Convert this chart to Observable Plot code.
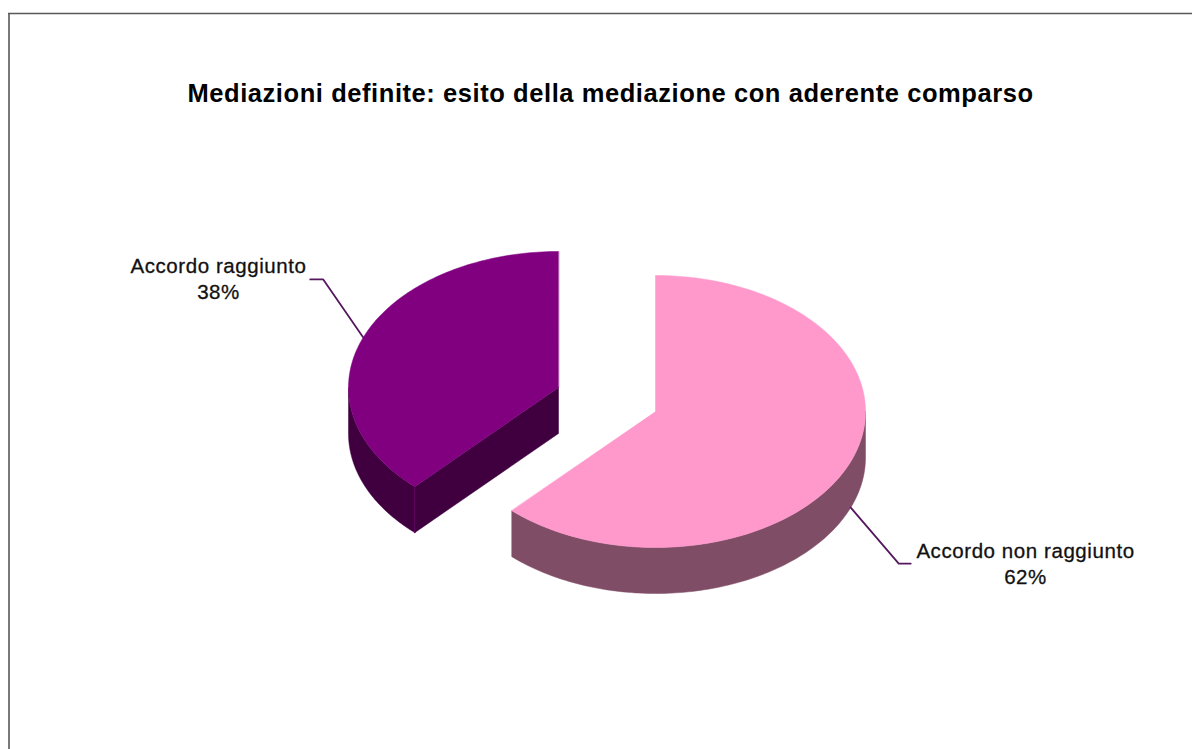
<!DOCTYPE html>
<html>
<head>
<meta charset="utf-8">
<title>Mediazioni definite</title>
<script src="https://cdn.jsdelivr.net/npm/d3@7"></script>
<script src="https://cdn.jsdelivr.net/npm/@observablehq/plot@0.6"></script>
<style>
  html, body { margin: 0; padding: 0; background: #fff; }
  svg { display: block; }
</style>
</head>
<body>
<script>
// Chart values
const categories = ["Accordo non raggiunto", "Accordo raggiunto"];
const shares = [62, 38];
const chartTitle = "Mediazioni definite: esito della mediazione con aderente comparso";

// Slice colours: top surface and extruded wall
const topColors = ["#FF99CC", "#800080"];
const wallColors = ["#804D66", "#400040"];
const seamColor = "#5E005E";
const leaderColor = "#55185F";
const borderColor = "#595959";

// Tilted pie geometry, in chart units
const W = 1192, H = 749;
const radiusX = 210, radiusY = 136, depth = 46;
const centers = [[655, 411], [558, 387]];
// Leader elbow and end, relative to the slice's mid-arc point; then the label position
const leaderElbow = [[48, 56], [-40, -58]];
const leaderEnd = [[60, 56], [-53, -58]];
const labelAt = [[1025, 539], [218, 254]];
const leaderFromWall = [true, false];

const slices = d3.pie().sort(null)(shares);

const rim = (i, a, drop = 0) => ({
  x: centers[i][0] + radiusX * Math.sin(a),
  y: centers[i][1] - radiusY * Math.cos(a) + drop
});
const arc = (i, a0, a1, drop = 0) =>
  d3.range(0, 121).map((k) => rim(i, a0 + (a1 - a0) * k / 120, drop));
const tag = (points, id) => points.map((p) => ({...p, id}));

// Top surface of each slice
const topFaces = slices.map((s, i) =>
  tag([{x: centers[i][0], y: centers[i][1]}, ...arc(i, s.startAngle, s.endAngle)], i));

// Outer wall: the part of the rim that faces the viewer
const frontWall = (i) => {
  const s = slices[i];
  const a0 = Math.max(s.startAngle, Math.PI / 2);
  const a1 = Math.min(s.endAngle, 3 * Math.PI / 2);
  return tag([...arc(i, a0, a1), ...arc(i, a1, a0, depth)], i);
};

// Cut wall of the second slice, seen from the lower right
const cutA = slices[1].startAngle;
const c1 = {x: centers[1][0], y: centers[1][1]};
const cutWall = tag([c1, rim(1, cutA), rim(1, cutA, depth), {x: c1.x, y: c1.y + depth}, c1], 1);
const seam = [rim(1, cutA), rim(1, cutA, depth)];

// Leader lines start at the mid-arc point of each slice
const leaders = slices.flatMap((s, i) => {
  const p = rim(i, (s.startAngle + s.endAngle) / 2, leaderFromWall[i] ? depth : 0);
  return [
    {...p, id: i},
    {x: p.x + leaderElbow[i][0], y: p.y + leaderElbow[i][1], id: i},
    {x: p.x + leaderEnd[i][0], y: p.y + leaderEnd[i][1], id: i}
  ];
});

const labels = categories.map((name, i) => ({
  x: labelAt[i][0], y: labelAt[i][1], text: `${name}\n${shares[i]}%`
}));

const polygon = (pts, fill) =>
  Plot.line(pts, {x: "x", y: "y", z: "id", fill, stroke: fill, strokeWidth: 0.5, curve: "linear-closed"});

const chart = Plot.plot({
  width: W,
  height: H,
  margin: 0,
  x: {domain: [0, W], axis: null},
  y: {domain: [H, 0], axis: null},
  style: {background: "#fff", letterSpacing: "0.57px"},
  marks: [
    Plot.ruleY([13], {x1: 8, x2: W, stroke: borderColor, strokeWidth: 1.6}),
    Plot.ruleX([8.5], {y1: 13, y2: H, stroke: borderColor, strokeWidth: 1.6}),
    // Back slice first, so the front one overlaps correctly
    polygon(frontWall(1), wallColors[1]),
    polygon(cutWall, wallColors[1]),
    Plot.line(seam, {x: "x", y: "y", stroke: seamColor, strokeWidth: 1}),
    polygon(topFaces[1], topColors[1]),
    polygon(frontWall(0), wallColors[0]),
    polygon(topFaces[0], topColors[0]),
    Plot.line(leaders, {x: "x", y: "y", z: "id", stroke: leaderColor, strokeWidth: 1.8}),
    Plot.text(labels, {
      x: "x", y: "y", text: "text",
      fontFamily: "Liberation Sans", fontSize: 20.5, fill: "#111",
      stroke: "#111", strokeWidth: 0.3,
      lineHeight: 1.27, lineAnchor: "top", textAnchor: "middle"
    }),
    Plot.text([chartTitle], {
      x: [610], y: [101], text: (d) => d,
      fontFamily: "Liberation Sans", fontSize: 25.5, fontWeight: "bold", fill: "#000",
      lineAnchor: "bottom", textAnchor: "middle"
    })
  ]
});
document.body.append(chart);
</script>
</body>
</html>
